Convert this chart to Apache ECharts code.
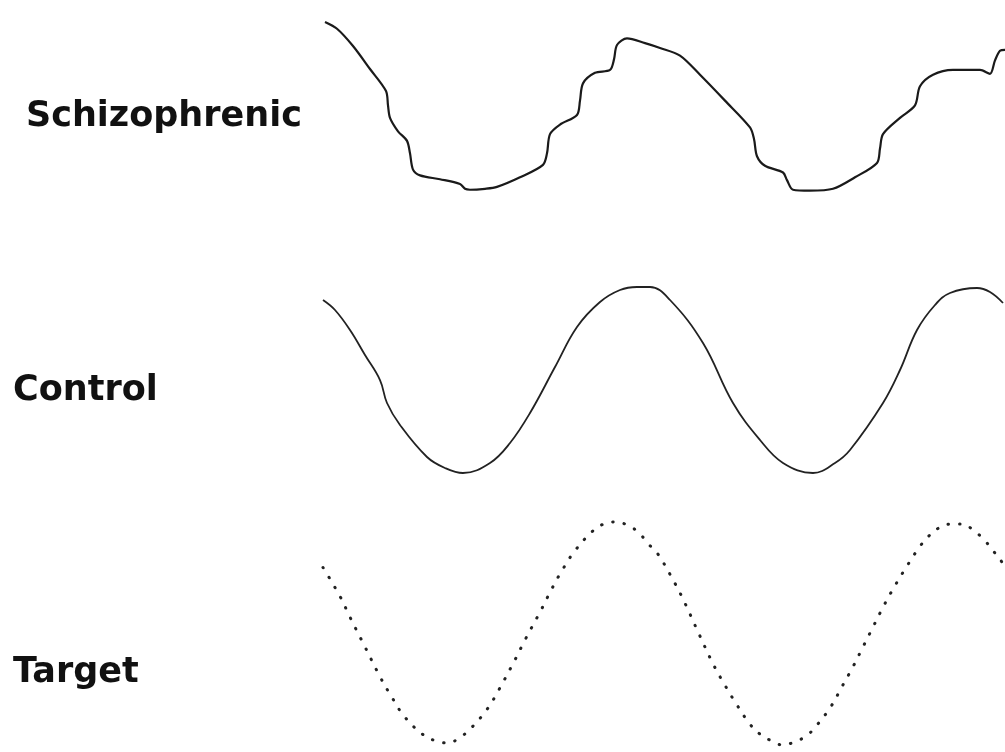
<!DOCTYPE html>
<html>
<head>
<meta charset="utf-8">
<script src="https://cdn.jsdelivr.net/npm/echarts@6/dist/echarts.min.js"></script>
<style>
  html, body { margin: 0; padding: 0; background: #fff; }
  #chart { width: 1005px; height: 752px; }
</style>
</head>
<body>
<div id="chart"></div>
<script>
// traces: [time, position]
const schizophrenic = [
  [2, 97], [14, 90], [30, 72], [47, 48], [63, 25], [65, 10], [67, -3], [75, -17],
  [84, -27], [87, -40], [90, -57], [97, -63], [117, -67], [137, -72], [142, -77],
  [147, -78], [162, -77], [174, -75], [197, -65], [220, -52], [224, -40], [227, -20],
  [237, -10], [254, 0], [257, 15], [260, 33], [272, 44], [287, 47], [291, 58],
  [294, 73], [304, 80], [322, 75], [337, 70], [357, 62], [377, 42], [402, 15],
  [427, -13], [431, -25], [434, -43], [442, -53], [460, -60], [464, -68], [470, -78],
  [487, -79], [510, -77], [532, -65], [554, -50], [557, -35], [560, -20], [577, -3],
  [592, 10], [597, 30], [610, 42], [630, 47], [657, 47], [667, 43], [672, 57],
  [677, 67], [682, 68]
];
const control = [
  [0, 80], [12, 70], [27, 50], [42, 25], [57, 0], [64, -23], [77, -45], [104, -77],
  [122, -88], [140, -93], [167, -83], [187, -63], [207, -33], [232, 13], [254, 53],
  [277, 78], [297, 90], [314, 93], [327, 93], [347, 80], [380, 37], [410, -23],
  [437, -60], [460, -83], [490, -93], [512, -83], [527, -70], [560, -23], [577, 10],
  [594, 50], [612, 75], [627, 87], [654, 92], [667, 88], [680, 77]
];
const target = [
  [0, 66], [17, 37], [27, 16], [42, -14], [57, -44], [69, -65], [82, -85], [102, -104],
  [114, -109], [125, -111], [136, -106], [147, -97], [164, -77], [176, -57], [192, -27],
  [202, -7], [218, 23], [228, 43], [239, 63], [252, 83], [270, 103], [281, 110],
  [292, 112], [304, 109], [316, 101], [325, 90], [334, 81], [352, 50], [362, 30],
  [376, -1], [390, -31], [401, -51], [413, -71], [427, -92], [437, -102], [449, -109],
  [460, -113], [471, -110], [483, -104], [493, -94], [508, -74], [519, -54], [530, -34],
  [540, -14], [550, 6], [560, 26], [571, 46], [583, 66], [596, 86], [605, 97],
  [616, 106], [629, 110], [639, 110], [650, 104], [662, 93], [670, 83], [678, 73],
  [682, 64]
];
const labels = ['Schizophrenic', 'Control', 'Target'];

const chart = echarts.init(document.getElementById('chart'), null, { renderer: 'canvas' });

const gridTops = [-10, 260, 514];
const labelPos = [[26, 117], [13, 391], [13, 673]];

const option = {
  backgroundColor: '#ffffff',
  animation: false,
  grid: gridTops.map(t => ({ left: 323, width: 682, top: t, height: 240 })),
  xAxis: gridTops.map((t, i) => ({
    gridIndex: i, type: 'value', min: 0, max: 682, show: false
  })),
  yAxis: gridTops.map((t, i) => ({
    gridIndex: i, type: 'value', min: -120, max: 120, show: false
  })),
  graphic: labels.map((name, i) => ({
    type: 'text',
    x: labelPos[i][0],
    y: labelPos[i][1],
    style: {
      text: name,
      fill: '#111',
      verticalAlign: 'middle',
      font: 'bold 35px "DejaVu Sans", sans-serif'
    }
  })),
  series: [
    {
      type: 'line', xAxisIndex: 0, yAxisIndex: 0, data: schizophrenic,
      smooth: 0.3, symbol: 'none', clip: false,
      lineStyle: { color: '#1a1a1a', width: 2.2 }
    },
    {
      type: 'line', xAxisIndex: 1, yAxisIndex: 1, data: control,
      smooth: 0.4, symbol: 'none', clip: false,
      lineStyle: { color: '#222', width: 1.8 }
    },
    {
      type: 'line', xAxisIndex: 2, yAxisIndex: 2, data: target,
      smooth: 0.4, symbol: 'none', clip: false,
      lineStyle: { color: '#222', width: 3, type: [0.5, 11], cap: 'round' }
    }
  ]
};

chart.setOption(option);
</script>
</body>
</html>
